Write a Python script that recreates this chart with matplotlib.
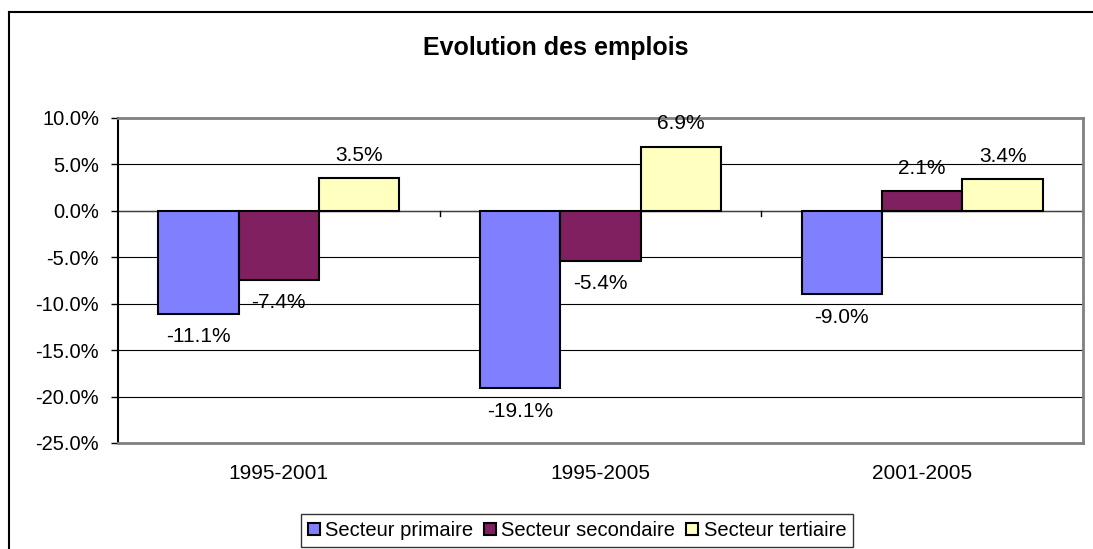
import matplotlib
matplotlib.use("Agg")
import matplotlib.pyplot as plt
from matplotlib.lines import Line2D
from matplotlib.patches import Patch
import numpy as np

categories = ["1995-2001", "1995-2005", "2001-2005"]
series_names = ["Secteur primaire", "Secteur secondaire", "Secteur tertiaire"]
primaire = [-11.1, -19.1, -9.0]
secondaire = [-7.4, -5.4, 2.1]
tertiaire = [3.5, 6.9, 3.4]
colors = ["#8080FF", "#802060", "#FFFFC0"]
yticks = [10, 5, 0, -5, -10, -15, -20, -25]

plt.rcParams['font.family'] = ['Liberation Sans', 'DejaVu Sans']

fig = plt.figure(figsize=(10.93, 5.49), dpi=100)
ax = fig.add_axes([118/1093, 1-443/549, (1083-118)/1093, (443-118)/549])

x = np.arange(len(categories))
w = 0.25
data = [primaire, secondaire, tertiaire]
for i, (vals, c, name) in enumerate(zip(data, colors, series_names)):
    pos = x + (i - 1) * w
    ax.bar(pos, vals, width=w, color=c, edgecolor="black", linewidth=1.5, label=name, zorder=3)
    for p, v in zip(pos, vals):
        off = 23 if v >= 0 else -23
        ax.annotate(f"{v:.1f}%", (p, v), xytext=(0, off), textcoords="offset pixels",
                    ha="center", va="center", fontsize=15, zorder=4)

ax.set_xlim(-0.5, 2.5)
ax.set_ylim(-25, 10)
ax.set_yticks(yticks)
ax.set_yticklabels([f"{t:.1f}%" for t in yticks], fontsize=14.5)
ax.yaxis.grid(True, color="black", linewidth=0.8, zorder=0)
ax.tick_params(axis="y", direction="out", length=5, width=1, pad=8.6)

# category axis crossing at zero
ax.set_xticks([])
ax.axhline(0, color="#404040", linewidth=1, zorder=2)
for b in [0.5, 1.5, 2.5]:
    ax.plot([b, b], [0, -0.6], color="black", linewidth=1, zorder=2, clip_on=False)
for xi, cat in zip(x, categories):
    ax.annotate(cat, (xi, -25), xytext=(0, -31), textcoords="offset pixels",
                ha="center", va="center", fontsize=15, annotation_clip=False)

for s in ["top", "right", "bottom"]:
    ax.spines[s].set_color("#808080")
    ax.spines[s].set_linewidth(2)
ax.spines["left"].set_color("black")
ax.spines["left"].set_linewidth(1.5)

fig.text(556/1093, 1-48/549, "Evolution des emplois", ha="center", va="center",
         fontsize=18, fontweight="bold")

# chart border (left and top)
fig.add_artist(Line2D([9/1093, 9/1093], [0, 1-12/549], color="black", linewidth=1.5,
                      transform=fig.transFigure))
fig.add_artist(Line2D([9/1093, 1], [1-12/549, 1-12/549], color="black", linewidth=1.5,
                      transform=fig.transFigure))

handles = [Patch(facecolor=c, edgecolor="black", linewidth=1.5) for c in colors]
leg = fig.legend(handles, series_names, loc="center", bbox_to_anchor=(577/1093, 1-530.5/549),
                 ncol=3, fontsize=14.5, frameon=True, fancybox=False, handlelength=0.6,
                 handleheight=0.6, handletextpad=0.25, columnspacing=0.55, borderpad=0.35,
                 borderaxespad=0)
leg.get_frame().set_edgecolor("black")
leg.get_frame().set_linewidth(1)

fig.savefig("out.png", dpi=100)
